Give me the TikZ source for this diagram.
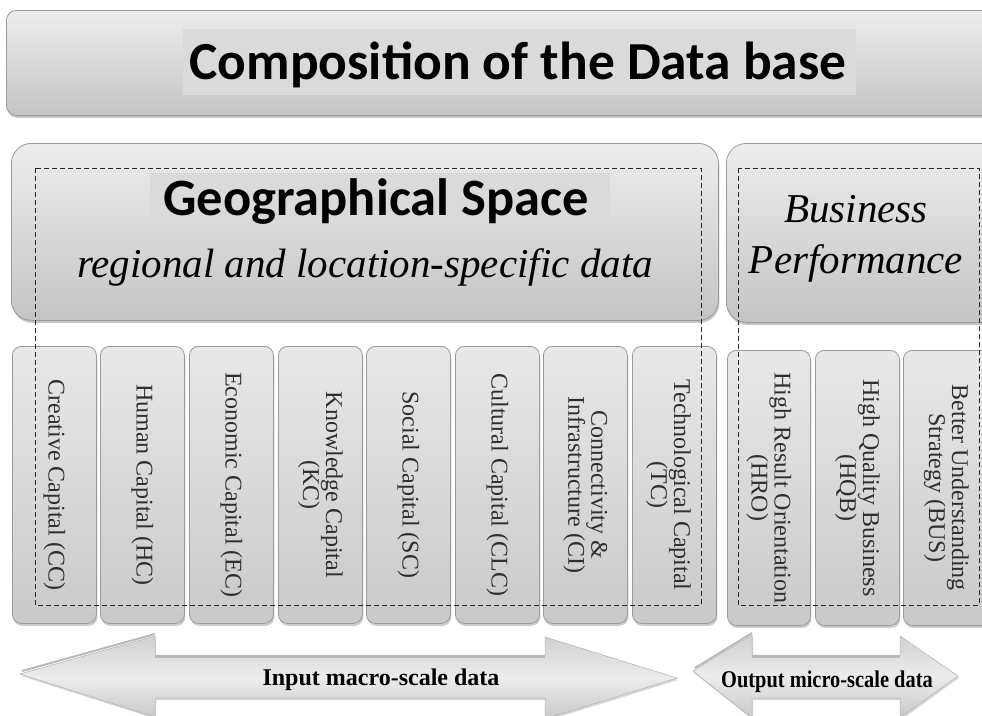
\documentclass[tikz,border=0pt]{standalone}
\usepackage{fontspec}
\setmainfont{Liberation Serif}
\newfontfamily\calibri{Carlito}
\usetikzlibrary{shadows}
\definecolor{boxtop}{HTML}{EDEDED}
\definecolor{boxbot}{HTML}{C4C4C4}
\definecolor{boxline}{HTML}{9A9A9A}
\definecolor{hilite}{HTML}{DADADA}
\definecolor{vtop}{HTML}{E8E8E8}
\definecolor{vbot}{HTML}{C9C9C9}
\definecolor{arrtop}{HTML}{D0D0D0}
\definecolor{arrmid}{HTML}{ECECEC}
\definecolor{arrbot}{HTML}{C8C8C8}
\definecolor{vtextcol}{HTML}{2E2E2E}
\begin{document}
\begin{tikzpicture}[x=1pt,y=-1pt,
  panel/.style={draw=boxline, line width=0.8pt, rounded corners=#1, top color=boxtop, bottom color=boxbot,
    drop shadow={opacity=0.45, shadow xshift=1pt, shadow yshift=-2.5pt}, anchor=north west, inner sep=0pt},
  vbox/.style={draw=boxline, line width=0.8pt, rounded corners=9pt, top color=vtop, bottom color=vbot,
    drop shadow={opacity=0.4, shadow xshift=1pt, shadow yshift=-2.5pt}, anchor=north west, inner sep=0pt,
    minimum width=84pt},
  vtext/.style={rotate=-90, align=center, font=\fontsize{24}{23}\selectfont, inner sep=0pt, text=vtextcol},
  dashbox/.style={draw=black!85, dash pattern=on 5pt off 3pt, line width=0.8pt},
  bigarrow/.style={draw=gray!60, line width=0.5pt, top color=arrtop, bottom color=arrbot, middle color=arrmid,
    drop shadow={opacity=0.3, shadow xshift=1pt, shadow yshift=-2pt}},
  arrlabel/.style={font=\bfseries\fontsize{24}{24}\selectfont, anchor=base, inner sep=0pt}
]
\useasboundingbox (0,0) rectangle (982,715);
\fill[white] (0,0) rectangle (982,715);

% top box
\node[panel=10pt, minimum width=990pt, minimum height=105pt] (top) at (6,10) {};
\fill[hilite] (183,29) rectangle (856,95);
\node[font=\calibri\bfseries\fontsize{53.5}{53.5}\selectfont, anchor=base, inner sep=0pt] (title) at (518,79) {Composition of the Data base};

% geographical space
\node[panel=20pt, minimum width=707pt, minimum height=177pt] (geo) at (11,143) {};
\node[panel=20pt, minimum width=280pt, minimum height=179pt] (bp) at (726,143) {};
\fill[hilite] (150,173) rectangle (610,229);
\node[font=\calibri\bfseries\fontsize{52.5}{52.5}\selectfont, anchor=base, inner sep=0pt] (geot) at (376,215) {Geographical Space};
\node[font=\itshape\fontsize{41}{41}\selectfont, anchor=base, inner sep=0pt] (geos) at (365,277) {regional and location-specific data};
\node[font=\itshape\fontsize{41}{41}\selectfont, anchor=base, inner sep=0pt] (bpt1) at (856,222) {Business};
\node[font=\itshape\fontsize{41}{41}\selectfont, anchor=base, inner sep=0pt] (bpt2) at (856,273) {Performance};

% vertical boxes (input)
\node[vbox, minimum height=277pt] (cc) at (12,346) {};
\node[vbox, minimum height=277pt] (hc) at (100,346) {};
\node[vbox, minimum height=277pt] (ec) at (189,346) {};
\node[vbox, minimum height=277pt] (kc) at (278,346) {};
\node[vbox, minimum height=277pt] (sc) at (366,346) {};
\node[vbox, minimum height=277pt] (clc) at (455,346) {};
\node[vbox, minimum height=277pt] (ci) at (543,346) {};
\node[vbox, minimum height=277pt] (tc) at (632,346) {};
% vertical boxes (output)
\node[vbox, minimum height=275pt, minimum width=83pt] (hro) at (727,350) {};
\node[vbox, minimum height=275pt] (hqb) at (815,350) {};
\node[vbox, minimum height=275pt, minimum width=90pt] (bus) at (903,350) {};

\node[vtext] (cct) at (cc.center) {Creative Capital (CC)};
\node[vtext] (hct) at (hc.center) {Human Capital (HC)};
\node[vtext] (ect) at (ec.center) {Economic Capital (EC)};
\node[vtext] (kct) at (kc.center) {Knowledge Capital\\(KC)};
\node[vtext] (sct) at (sc.center) {Social Capital (SC)};
\node[vtext] (clct) at (clc.center) {Cultural Capital (CLC)};
\node[vtext] (cit) at (ci.center) {Connectivity \&\\Infrastructure (CI)};
\node[vtext] (tct) at ([xshift=-6pt]tc.center) {Technological Capital\\(TC)};
\node[vtext] (hrot) at (hro.center) {High Result Orientation\\(HRO)};
\node[vtext] (hqbt) at (hqb.center) {High Quality Business\\(HQB)};
\node[vtext] (bust) at ([xshift=-2pt]bus.center) {Better Understanding\\Strategy (BUS)};

% dashed frames
\draw[dashbox] (35,168) rectangle (701,605);
\draw[dashbox] (738,168) rectangle (979,605);

% bottom arrows
\path[bigarrow] (20,674) -- (155,636) -- (155,655) -- (545,655) -- (545,637) -- (677,678)
  -- (545,719) -- (545,698) -- (155,698) -- (155,717) -- cycle;
\draw[gray!55, line width=2pt] (22,671) -- (155,634);
\draw[gray!55, line width=2.5pt] (155,656.5) -- (545,656.5);
\node[arrlabel] (inl) at (381,685) {Input macro-scale data};

\path[bigarrow] (693,671) -- (752,635) -- (752,655) -- (900,655) -- (900,636) -- (958,676)
  -- (900,718) -- (900,698) -- (752,698) -- (752,718) -- cycle;
\draw[gray!55, line width=2pt] (695,668) -- (752,633);
\draw[gray!55, line width=2.5pt] (752,656.5) -- (900,656.5);
\node[arrlabel] (outl) at (827,687) {\scalebox{0.85}[1]{Output micro-scale data}};
\end{tikzpicture}
\end{document}
